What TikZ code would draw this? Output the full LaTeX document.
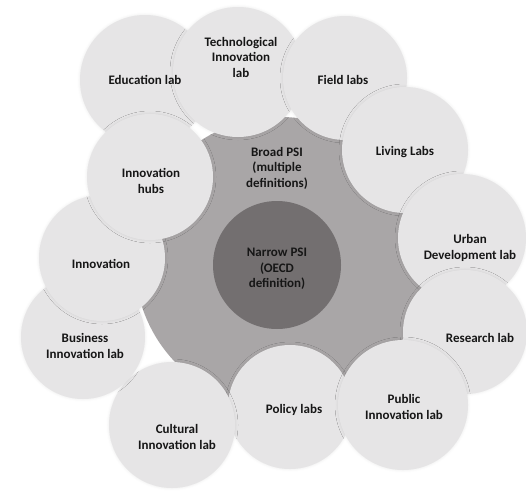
\documentclass[tikz,border=0pt]{standalone}
\usepackage{fontspec}
\setmainfont{Carlito}
\usetikzlibrary{shadows.blur}

\definecolor{labgrey}{HTML}{E6E5E6}
\definecolor{broadgrey}{HTML}{A9A6A7}
\definecolor{narrowgrey}{HTML}{736F70}
\definecolor{inkgrey}{HTML}{161616}

\tikzset{
  lab/.style={circle,fill=labgrey,inner sep=0pt,minimum size=#1,
    blur shadow={shadow xshift=0pt,shadow yshift=0pt,shadow blur radius=3pt,shadow opacity=9}},
  labtext/.style={font=\bfseries\fontsize{13}{15.5}\selectfont,text=inkgrey,align=center}
}

\begin{document}
\begin{tikzpicture}[x=1pt,y=-1pt]
    \useasboundingbox (0,0) rectangle (526,492);
    % broad PSI behind the labs
    \node[circle,fill=broadgrey,inner sep=0pt,minimum size=290pt] (broad) at (280,262) {};
    % the labs around it
    \node[lab=130pt] (edu) at (145,80) {};
    \node[lab=130pt] (tech) at (238,72) {};
    \node[lab=124pt] (field) at (345,78) {};
    \node[lab=126pt] (living) at (405,150) {};
    \node[lab=128pt] (urban) at (462,238) {};
    \node[lab=124pt] (research) at (465,332) {};
    \node[lab=124pt] (policy) at (290,407) {};
    \node[lab=130pt] (public) at (403,405) {};
    \node[lab=126pt] (cultural) at (172,425) {};
    \node[lab=124pt] (business) at (83,337) {};
    \node[lab=126pt] (innov) at (102,258) {};
    \node[lab=126pt] (hubs) at (150,177) {};
    % narrow PSI in the middle
    \node[circle,fill=narrowgrey,inner sep=0pt,minimum size=128pt] (narrow) at (277,265) {};
    \begin{scope}[every node/.style={labtext}]
      \node (broadText) at (277,168) {Broad PSI\\(multiple\\definitions)};
      \node (narrowText) at (277,269) {Narrow PSI\\(OECD\\definition)};
      \node (eduText) at (145,80) {Education lab};
      \node (techText) at (241,57) {Technological\\Innovation\\lab};
      \node (fieldText) at (343,80) {Field labs};
      \node (livingText) at (405,152) {Living Labs};
      \node (urbanText) at (470,248) {Urban\\Development lab};
      \node (researchText) at (480,338) {Research lab};
      \node (publicText) at (404,407) {Public\\Innovation lab};
      \node (policyText) at (294,410) {Policy labs};
      \node (culturalText) at (177,437) {Cultural\\Innovation lab};
      \node (businessText) at (85,346) {Business\\Innovation lab};
      \node (innovText) at (101,264) {Innovation};
      \node (hubsText) at (151,181) {Innovation\\hubs};
    \end{scope}
\end{tikzpicture}
\end{document}
